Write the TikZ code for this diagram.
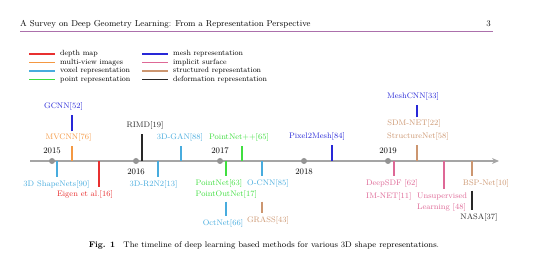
\documentclass[tikz,border=0pt]{standalone}
\usepackage{amsmath,amssymb}
\usepackage{xcolor}
\usepackage{tikz}
\usetikzlibrary{arrows.meta, positioning, calc}

\definecolor{depthc}{RGB}{232,48,48}
\definecolor{viewc}{RGB}{244,152,66}
\definecolor{voxelc}{RGB}{72,172,222}
\definecolor{pointc}{RGB}{64,222,64}
\definecolor{meshc}{RGB}{40,40,215}
\definecolor{implc}{RGB}{222,104,150}
\definecolor{structc}{RGB}{204,150,112}
\definecolor{deformc}{RGB}{40,40,40}
\definecolor{axisc}{RGB}{165,165,165}
\definecolor{rulec}{RGB}{172,112,172}

\begin{document}
\begin{tikzpicture}[
  x=1pt, y=-1pt,
  lbl/.style={inner sep=1.5pt, text height=6pt, text depth=2pt,
              font=\fontsize{8}{10}\selectfont},
  yr/.style={inner sep=1.5pt, font=\fontsize{8.5}{10}\selectfont},
  leg/.style={anchor=west, inner sep=2pt, font=\fontsize{7.5}{9}\selectfont},
  tick/.style={line width=1.2pt, shorten >=2pt},
  link/.style={line width=1.2pt, shorten >=2pt, shorten <=1pt},
  swatch/.style={line width=1.3pt},
  dot/.style={circle, fill=axisc!90!black, inner sep=0pt, minimum size=6pt}
]
\useasboundingbox (0,0) rectangle (540,261);

% page head
\node[anchor=west, inner sep=0pt, font=\fontsize{8.6}{11}\selectfont] (head) at (20,24)
  {A Survey on Deep Geometry Learning: From a Representation Perspective};
\node[anchor=east, inner sep=0pt, font=\fontsize{8.6}{11}\selectfont] (page) at (491,24) {3};
\coordinate (rl) at (20,31.5);
\coordinate (rr) at (493,31.5);
\draw[rulec, line width=0.8pt] (rl) -- (rr);

% legend
\node[leg] (dm) at (58,54) {depth map};
\node[leg] (mv) at (58,62.5) {multi-view images};
\node[leg] (vx) at (58,71) {voxel representation};
\node[leg] (pt) at (58,79.5) {point representation};
\node[leg] (ms) at (171,54) {mesh representation};
\node[leg] (im) at (171,62.5) {implicit surface};
\node[leg] (st) at (171,71) {structured representation};
\node[leg] (df) at (171,79.5) {deformation representation};
\draw[swatch, depthc] ([xshift=-29pt]dm.west) -- ([xshift=-3pt]dm.west);
\draw[swatch, viewc] ([xshift=-29pt]mv.west) -- ([xshift=-3pt]mv.west);
\draw[swatch, voxelc] ([xshift=-29pt]vx.west) -- ([xshift=-3pt]vx.west);
\draw[swatch, pointc] ([xshift=-29pt]pt.west) -- ([xshift=-3pt]pt.west);
\draw[swatch, meshc] ([xshift=-29pt]ms.west) -- ([xshift=-3pt]ms.west);
\draw[swatch, implc] ([xshift=-29pt]im.west) -- ([xshift=-3pt]im.west);
\draw[swatch, structc] ([xshift=-29pt]st.west) -- ([xshift=-3pt]st.west);
\draw[swatch, deformc] ([xshift=-29pt]df.west) -- ([xshift=-3pt]df.west);

% axis and years
\coordinate (t0) at (30,161);
\coordinate (t1) at (499,161);
\draw[axisc, line width=1.7pt, -{Stealth[length=7pt, width=6pt]}] (t0) -- (t1);
\node[dot] (y15) at (52,161) {};
\node[dot] (y16) at (136,161) {};
\node[dot] (y17) at (220,161) {};
\node[dot] (y18) at (304,161) {};
\node[dot] (y19) at (388,161) {};
\node[yr, above=2pt of y15] (l15) {2015};
\node[yr, below=3pt of y16] (l16) {2016};
\node[yr, above=2pt of y17] (l17) {2017};
\node[yr, below=3pt of y18] (l18) {2018};
\node[yr, above=2pt of y19] (l19) {2019};

% tick points
\coordinate (c-shape) at (57,161);
\coordinate (c-mvcnn) at (72,161);
\coordinate (c-eigen) at (99,161);
\coordinate (c-rimd) at (142,161);
\coordinate (c-r2n2) at (158,161);
\coordinate (c-gan) at (181,161);
\coordinate (c-pnet) at (226,161);
\coordinate (c-pnpp) at (242,161);
\coordinate (c-ocnn) at (262,161);
\coordinate (c-p2m) at (332,161);
\coordinate (c-sdf) at (394,161);
\coordinate (c-snet) at (417,161);
\coordinate (c-unsup) at (444,161);
\coordinate (c-bsp) at (472,161);

% methods above the axis
\node[lbl, text=viewc] (mvcnn) at (68.5,138) {MVCNN[76]};
\node[lbl, text=meshc] (gcnn) at (63.5,107) {GCNN[52]};
\node[lbl, text=deformc] (rimd) at (145,126) {RIMD[19]};
\node[lbl, text=voxelc] (gan) at (180,138) {3D-GAN[88]};
\node[lbl, text=pointc] (pnpp) at (239,138) {PointNet++[65]};
\node[lbl, text=meshc] (p2m) at (317,137) {Pixel2Mesh[84]};
\node[lbl, text=structc] (snet) at (418,137) {StructureNet[58]};
\node[lbl, text=structc] (sdm) at (414,124) {SDM-NET[22]};
\node[lbl, text=meshc] (meshcnn) at (413,97) {MeshCNN[33]};

% methods below the axis
\node[lbl, text=voxelc] (shape) at (56.5,185) {3D ShapeNets[90]};
\node[lbl, text=depthc] (eigen) at (85,195) {Eigen et al.[16]};
\node[lbl, text=voxelc] (r2n2) at (153.5,185) {3D-R2N2[13]};
\node[lbl, text=pointc, anchor=west] (pnet) at (194,184) {PointNet[63]};
\node[lbl, text=pointc, anchor=west] (pout) at (194,195) {PointOutNet[17]};
\node[lbl, text=voxelc] (octnet) at (223,224) {OctNet[66]};
\node[lbl, text=voxelc] (ocnn) at (268,184) {O-CNN[85]};
\node[lbl, text=structc] (grass) at (268,221) {GRASS[43]};
\node[lbl, text=implc, anchor=west] (sdf) at (364.5,184) {DeepSDF [62]};
\node[lbl, text=implc, anchor=west] (imnet) at (364.5,197) {IM-NET[11]};
\node[lbl, text=implc, anchor=west] (unsup) at (415.5,197) {Unsupervised};
\node[lbl, text=implc, anchor=west] (learn) at (415.5,207.5) {Learning [48]};
\node[lbl, text=structc] (bsp) at (486,184) {BSP-Net[10]};
\node[lbl, text=deformc] (nasa) at (479,218) {NASA[37]};

\draw[tick, viewc] (c-mvcnn) -- (c-mvcnn |- mvcnn.south);
\draw[link, meshc] (c-mvcnn |- mvcnn.north) -- (c-mvcnn |- gcnn.south);
\draw[tick, deformc] (c-rimd) -- (c-rimd |- rimd.south);
\draw[tick, voxelc] (c-gan) -- (c-gan |- gan.south);
\draw[tick, pointc] (c-pnpp) -- (c-pnpp |- pnpp.south);
\draw[tick, meshc] (c-p2m) -- (c-p2m |- p2m.south);
\draw[tick, structc] (c-snet) -- (c-snet |- snet.south);
\draw[link, meshc] (c-snet |- sdm.north) -- (c-snet |- meshcnn.south);

\draw[tick, voxelc] (c-shape) -- (c-shape |- shape.north);
\draw[tick, depthc] (c-eigen) -- (c-eigen |- eigen.north);
\draw[tick, voxelc] (c-r2n2) -- (c-r2n2 |- r2n2.north);
\draw[tick, pointc] (c-pnet) -- (c-pnet |- pnet.north);
\draw[link, voxelc] (c-pnet |- pout.south) -- (c-pnet |- octnet.north);
\draw[tick, voxelc] (c-ocnn) -- (c-ocnn |- ocnn.north);
\draw[link, structc] (c-ocnn |- pout.south) -- (c-ocnn |- grass.north);
\draw[tick, implc] (c-sdf) -- (c-sdf |- sdf.north);
\draw[tick, implc] (c-unsup) -- (c-unsup |- unsup.north);
\draw[tick, structc] (c-bsp) -- (c-bsp |- bsp.north);
\draw[link, deformc] (c-bsp |- bsp.south) -- (c-bsp |- nasa.north);

% caption
\node[font=\fontsize{8.2}{10}\selectfont] (cap) at (264,245)
  {\textbf{Fig. 1}\quad The timeline of deep learning based methods for various 3D shape representations.};
\end{tikzpicture}
\end{document}
